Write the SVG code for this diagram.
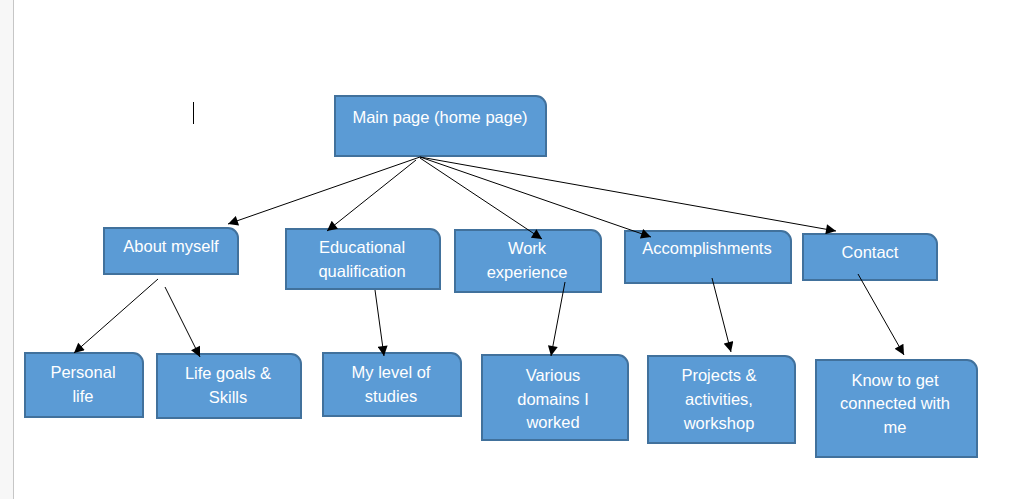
<svg xmlns="http://www.w3.org/2000/svg" width="1032" height="499" viewBox="0 0 1032 499">
<defs>
<style>
.box{fill:#5b9bd5;stroke:#41719c;stroke-width:2}
.t{font-family:"Liberation Sans",Arial,sans-serif;font-size:16.5px;fill:#ffffff;text-anchor:middle}
.c{stroke:#000;stroke-width:1;fill:none;marker-end:url(#ah)}
</style>
<marker id="ah" viewBox="0 0 10 10" refX="10" refY="5" markerWidth="12" markerHeight="10" markerUnits="userSpaceOnUse" orient="auto">
<path d="M0,0 L10,5 L0,10 Z" fill="#000"/>
</marker>
</defs>
<rect x="0" y="0" width="1032" height="499" fill="#ffffff"/>
<rect x="0" y="0" width="13" height="499" fill="#f7f7f7"/>
<line x1="13.5" y1="0" x2="13.5" y2="499" stroke="#c6c6c6" stroke-width="1"/>
<line x1="193.5" y1="102" x2="193.5" y2="124" stroke="#000" stroke-width="1"/>

<g id="main">
<path class="box" d="M335,96 H536 A10,10 0 0 1 546,106 V156 H335 Z"/>
<text class="t" x="440" y="123">Main page (home page)</text>
</g>
<g id="about">
<path class="box" d="M104,228 H228 A10,10 0 0 1 238,238 V274 H104 Z"/>
<text class="t" x="171" y="252">About myself</text>
</g>
<g id="education">
<path class="box" d="M286,229 H430 A10,10 0 0 1 440,239 V289 H286 Z"/>
<text class="t" x="362" y="253">Educational</text>
<text class="t" x="362" y="277">qualification</text>
</g>
<g id="work">
<path class="box" d="M455,230 H591 A10,10 0 0 1 601,240 V292 H455 Z"/>
<text class="t" x="527" y="254">Work</text>
<text class="t" x="527" y="278">experience</text>
</g>
<g id="accomplishments">
<path class="box" d="M625,231 H781 A10,10 0 0 1 791,241 V283 H625 Z"/>
<text class="t" x="707" y="254">Accomplishments</text>
</g>
<g id="contact">
<path class="box" d="M803,234 H927 A10,10 0 0 1 937,244 V280 H803 Z"/>
<text class="t" x="870" y="258">Contact</text>
</g>
<g id="personal">
<path class="box" d="M25,353 H133 A10,10 0 0 1 143,363 V417 H25 Z"/>
<text class="t" x="83" y="378">Personal</text>
<text class="t" x="83" y="402">life</text>
</g>
<g id="lifegoals">
<path class="box" d="M157,354 H291 A10,10 0 0 1 301,364 V418 H157 Z"/>
<text class="t" x="228" y="379">Life goals &amp;</text>
<text class="t" x="228" y="403">Skills</text>
</g>
<g id="studies">
<path class="box" d="M323,353 H451 A10,10 0 0 1 461,363 V416 H323 Z"/>
<text class="t" x="391" y="378">My level of</text>
<text class="t" x="391" y="402">studies</text>
</g>
<g id="domains">
<path class="box" d="M482,355 H618 A10,10 0 0 1 628,365 V440 H482 Z"/>
<text class="t" x="553" y="381">Various</text>
<text class="t" x="553" y="405">domains I</text>
<text class="t" x="553" y="428">worked</text>
</g>
<g id="projects">
<path class="box" d="M648,356 H785 A10,10 0 0 1 795,366 V443 H648 Z"/>
<text class="t" x="719" y="381">Projects &amp;</text>
<text class="t" x="719" y="405">activities,</text>
<text class="t" x="719" y="429">workshop</text>
</g>
<g id="connected">
<path class="box" d="M816,360 H967 A10,10 0 0 1 977,370 V457 H816 Z"/>
<text class="t" x="895" y="386">Know to get</text>
<text class="t" x="895" y="409">connected with</text>
<text class="t" x="895" y="433">me</text>
</g>

<g id="connectors">
<line class="c" x1="420" y1="157" x2="228" y2="224"/>
<line class="c" x1="416" y1="160" x2="327" y2="231"/>
<line class="c" x1="420" y1="158" x2="542" y2="239"/>
<line class="c" x1="420" y1="157" x2="651" y2="237"/>
<line class="c" x1="420" y1="157" x2="836" y2="231"/>
<line class="c" x1="158" y1="279" x2="74" y2="353"/>
<line class="c" x1="165" y1="287" x2="200" y2="357"/>
<line class="c" x1="375" y1="290" x2="384" y2="356"/>
<line class="c" x1="565" y1="282" x2="551" y2="356"/>
<line class="c" x1="712" y1="278" x2="731" y2="352"/>
<line class="c" x1="858" y1="274" x2="904" y2="355"/>
</g>
</svg>
